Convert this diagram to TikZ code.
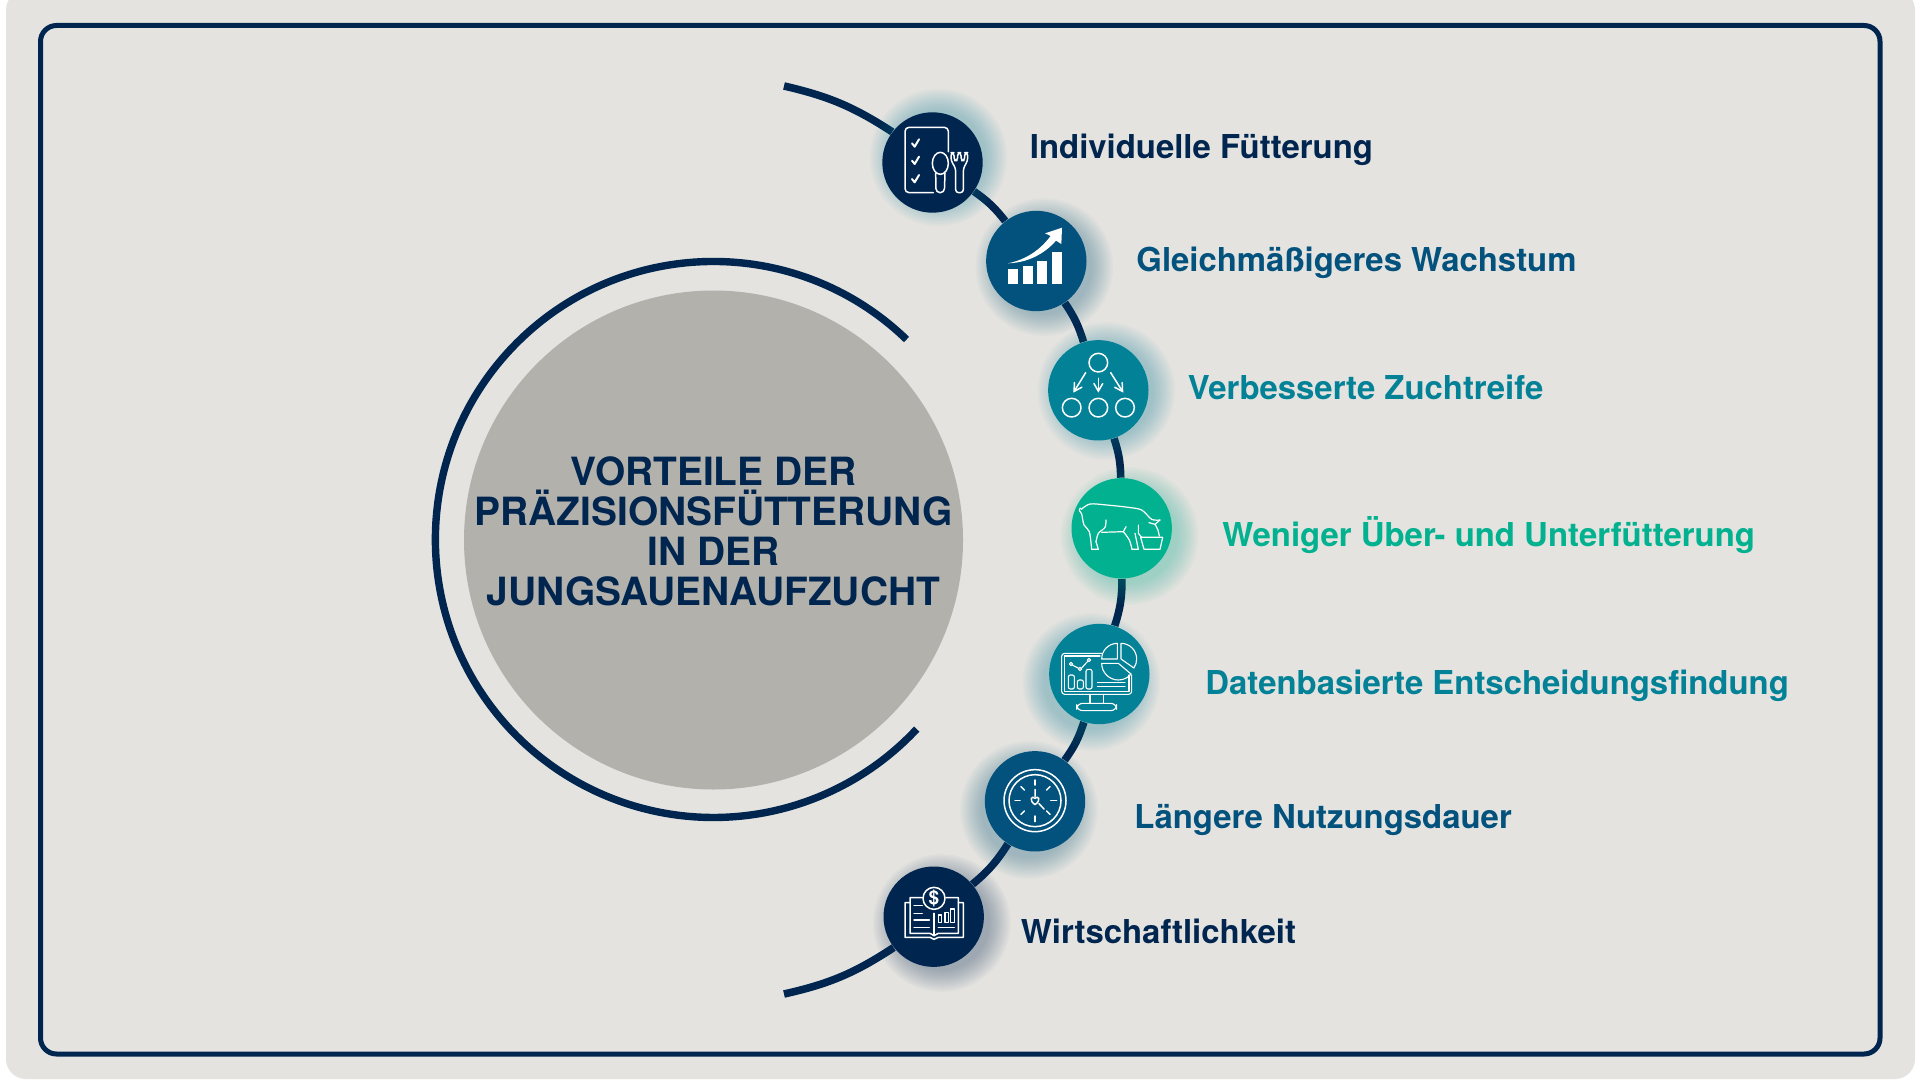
\documentclass[tikz,border=0pt]{standalone}
\usepackage{fontspec}
\setmainfont{TeX Gyre Heros}
\usetikzlibrary{arrows}
\definecolor{navy}{HTML}{00254F}
\definecolor{petrol}{HTML}{02527D}
\definecolor{teal2}{HTML}{038197}
\definecolor{mint}{HTML}{02B18F}
\definecolor{paper}{HTML}{E4E3DF}
\definecolor{stone}{HTML}{B3B1AC}
\pgfdeclarelayer{base}
\pgfdeclarelayer{arclayer}
\pgfdeclarelayer{glowlayer}
\pgfsetlayers{base,arclayer,glowlayer,main}
\newcommand{\badgeglow}[4]{%
  \foreach \r in {1,...,12}
    \fill[#4, opacity=0.028] (#1+#2, #3) circle[radius=46+1.9*\r];}
\begin{document}
\begin{tikzpicture}[x=0.5pt,y=-0.5pt,>=angle 60]
                \tikzset{badge/.style={circle, minimum size=50.2pt, inner sep=0pt, fill=#1}}
                \tikzset{lbl/.style={anchor=base west, inner sep=0pt, font=\fontsize{16.45}{18}\selectfont\bfseries, text=#1}}
                \tikzset{arcline/.style={draw=navy, line width=3.8pt}}
                \tikzset{ringline/.style={draw=navy, line width=3.7pt}}
                \tikzset{iconline/.style={draw=white, line width=.75pt, line join=round, line cap=round}}
                \useasboundingbox (0,0) rectangle (1920,1080);
                \begin{pgfonlayer}{base}
                \fill[white] (0,0) rectangle (1920,1080);
                \fill[paper, rounded corners=10pt] (6,-10) rectangle (1915,1079);
                \end{pgfonlayer}
                \draw[navy, line width=2.5pt, rounded corners=8pt] (40.5,25.5) rectangle (1880,1054);
                % centre
                \node[circle, minimum size=249.5pt, inner sep=0pt, fill=stone] (hub) at (713.5,540) {};
                \coordinate (ringstart) at (906.5,339.5);
                \draw[ringline] (ringstart) arc[start angle=-46, end angle=-317, radius=278];
                \node[align=center, inner sep=0pt, text=navy, font=\fontsize{19.45}{20}\selectfont\bfseries] (title) at (713.5,531.5) {VORTEILE DER\\PRÄZISIONSFÜTTERUNG\\IN DER\\JUNGSAUENAUFZUCHT};
                % badges
                \node[badge=navy] (A) at (932.5,162.5) {};
                \node[badge=petrol] (B) at (1036.3,261) {};
                \node[badge=teal2] (C) at (1098.3,390.3) {};
                \node[badge=mint] (D) at (1121.7,528.3) {};
                \node[badge=teal2] (E) at (1099.3,674) {};
                \node[badge=petrol] (F) at (1035,801.3) {};
                \node[badge=navy] (G) at (933.7,916.7) {};
                \coordinate (arctop) at (784,86);
                \coordinate (arcbot) at (784,994);
                \begin{pgfonlayer}{arclayer}
                \foreach \a/\b/\bnd in {arctop/A/10,A/B/8.6,B/C/8.6,C/D/8.5,D/E/9,E/F/9,F/G/8.8,G/arcbot/10.3}
                    \path[arcline] (\a) edge[bend left=\bnd] (\b);
                \end{pgfonlayer}
                \begin{pgfonlayer}{glowlayer}
                \badgeglow{932.5}{6}{157.5}{teal2}
                \badgeglow{1036.3}{8}{267}{petrol}
                \badgeglow{1098.3}{8}{391}{teal2}
                \badgeglow{1121.7}{8}{536}{mint}
                \badgeglow{1099.3}{-8}{682}{teal2}
                \badgeglow{1035}{-6}{810}{petrol}
                \badgeglow{933.7}{8}{923}{navy}
                \end{pgfonlayer}
                % labels
                \node[lbl=navy] (la) at (1029.5,159) {Individuelle Fütterung};
                \node[lbl=petrol] (lb) at (1136,271.5) {Gleichmäßigeres Wachstum};
                \node[lbl=teal2] (lc) at (1187.5,399) {Verbesserte Zuchtreife};
                \node[lbl=mint] (ld) at (1222,546) {Weniger Über- und Unterfütterung};
                \node[lbl=teal2] (le) at (1205,694) {Datenbasierte Entscheidungsfindung};
                \node[lbl=petrol] (lf) at (1134,828) {Längere Nutzungsdauer};
                \node[lbl=navy] (lg) at (1020.5,943) {Wirtschaftlichkeit};
                % menu and growth
                \begin{scope}[shift={(840,70)},scale=1/3]
                    \draw[iconline, rounded corners=2pt] (280,368) -- (195,368) -- (195,172) -- (325,172) -- (325,245);
                    \foreach \cy in {220,272,327}
                        \draw[iconline, line width=1pt] (216,\cy) -- (224,\cy+10) -- (237,\cy-12);
                    \draw[iconline] (301,280) ellipse[x radius=24, y radius=33];
                    \draw[iconline, rounded corners=2pt] (287,310) -- (288,368) -- (313,368) -- (315,310);
                    \draw[iconline, rounded corners=1.5pt] (333,248) -- (333,272) -- (347,295) -- (347,368) -- (370,368) -- (370,295) -- (383,272) -- (383,248) -- (374,248) -- (374,272) -- (363,272) -- (363,248) -- (353,248) -- (353,272) -- (342,272) -- (342,248) -- cycle;
                    \foreach \xa/\xb/\yt in {504/533/597,548/578/588,592/622/572,637/666/546}
                        \fill[white] (\xa,\yt) rectangle (\xb,641);
                    \fill[white] (504,580) .. controls (560,568) and (600,540) .. (632,498) -- (615,490) -- (666,473) -- (664,522) -- (648,512) .. controls (610,555) and (560,578) .. (504,580) -- cycle;
                    % tree
                    \foreach \cx/\cy in {775/878,695/1013,775/1013,855/1013}
                        \draw[iconline] (\cx,\cy) circle[radius=28];
                    \draw[iconline,->] (737,908) -- (700,968);
                    \draw[iconline,->] (775,925) -- (775,968);
                    \draw[iconline,->] (812,908) -- (850,968);
                \end{scope}
                % pig
                \begin{scope}[shift={(1070,490)},scale=1/3]
                    \tikzset{iconline/.append style={line width=.6pt}}
                    \draw[iconline] plot[smooth] coordinates {(31,54) (28,62) (35,72) (42,105) (58,125) (65,178)};
                    \draw[iconline] plot[smooth] coordinates {(34,58) (60,42) (110,45) (175,52) (215,60) (245,88) (270,90)};
                    \draw[iconline] (65,178) -- (85,178) -- (78,155);
                    \draw[iconline] plot[smooth] coordinates {(78,155) (85,130) (105,112) (108,90)};
                    \draw[iconline] (95,127) -- (160,125);
                    \draw[iconline] (160,125) -- (168,110);
                    \draw[iconline] plot[smooth] coordinates {(160,125) (178,150) (186,178)};
                    \draw[iconline] (186,178) -- (205,178) -- (195,130);
                    \draw[iconline] (205,105) -- (205,130) -- (215,142);
                    \draw[iconline] (237,98) -- (255,103) -- (270,90);
                    \draw[iconline] plot[smooth] coordinates {(255,103) (263,118) (268,138)};
                    \draw[iconline] (212,142) -- (278,142) -- (270,178) -- (222,178) -- cycle;
                \end{scope}
                % dashboard
                \begin{scope}[shift={(1050,635)},scale=1/3]
                    \tikzset{iconline/.append style={line width=.55pt}}
                    \draw[iconline, rounded corners=1.5pt] (155,55) -- (35,55) -- (35,178) -- (245,178) -- (245,120);
                    \draw[iconline] (150,63) -- (43,63) -- (43,170) -- (237,170) -- (237,120);
                    \draw[iconline] (202,72) -- (202,25) arc[start angle=-90, end angle=-180, radius=47] -- cycle;
                    \draw[iconline] (213,72) -- (213,25) arc[start angle=-90, end angle=35, radius=47] -- cycle;
                    \draw[iconline] (205,85) -- (155,85) arc[start angle=180, end angle=40, radius=50] -- cycle;
                    \draw[iconline] (120,178) -- (120,205) (160,178) -- (160,205);
                    \draw[iconline, rounded corners=3pt] (80,205) rectangle (200,227);
                    \foreach \xa/\yt in {55/120,82/135,108/103}
                        \draw[iconline, rounded corners=1pt] (\xa,162) rectangle (\xa+18,\yt);
                    \draw[iconline] (67,90) -- (86,100) (94,100) -- (113,79);
                    \foreach \cx/\cy in {63/87,90/102,117/75}
                        \draw[iconline] (\cx,\cy) circle[radius=5];
                    \draw[iconline] (142,142) -- (225,142) (142,155) -- (225,155);
                \end{scope}
                % clock
                \begin{scope}[shift={(840,730)},scale=1/3]
                    \draw[iconline] (585,212) circle[radius=93];
                    \draw[iconline] (585,212) circle[radius=78];
                    \draw[iconline] (585,150) -- (585,165) (632,212) -- (650,212) (585,258) -- (585,275) (525,212) -- (540,212);
                    \draw[iconline] (543,170) -- (553,180) (630,170) -- (620,180) (543,253) -- (553,243) (630,253) -- (620,243);
                    \draw[iconline] (585,178) -- (585,200) (597,221) -- (612,237);
                    \draw[iconline] (585,224) .. controls (565,210) and (575,195) .. (585,205) .. controls (595,195) and (605,210) .. (585,224) -- cycle;
                \end{scope}
                % book
                \begin{scope}[shift={(890,880)},scale=1/3]
                    \draw[iconline] (132,55) circle[radius=33];
                    \node[text=white, inner sep=0pt, font=\fontsize{9.5}{10}\selectfont\bfseries] (dollar) at (132,55) {\$};
                    \draw[iconline] (60,68) -- (45,68) -- (45,172) -- (120,172) -- (132,178) -- (145,172) -- (220,172) -- (220,68) -- (205,68);
                    \draw[iconline] (97,53) -- (60,53) -- (60,160) -- (120,160) -- (132,167) -- (145,160) -- (205,160) -- (205,53) -- (168,53);
                    \draw[iconline] (132,100) -- (132,167);
                    \draw[iconline] (72,77) -- (97,77) (72,100) -- (97,100) (72,120) -- (118,120) (72,142) -- (118,142) (145,142) -- (193,142);
                    \draw[iconline] (145,105) rectangle (155,127) (165,97) rectangle (175,127) (182,87) rectangle (193,127);
                \end{scope}
            \end{tikzpicture}
\end{document}
